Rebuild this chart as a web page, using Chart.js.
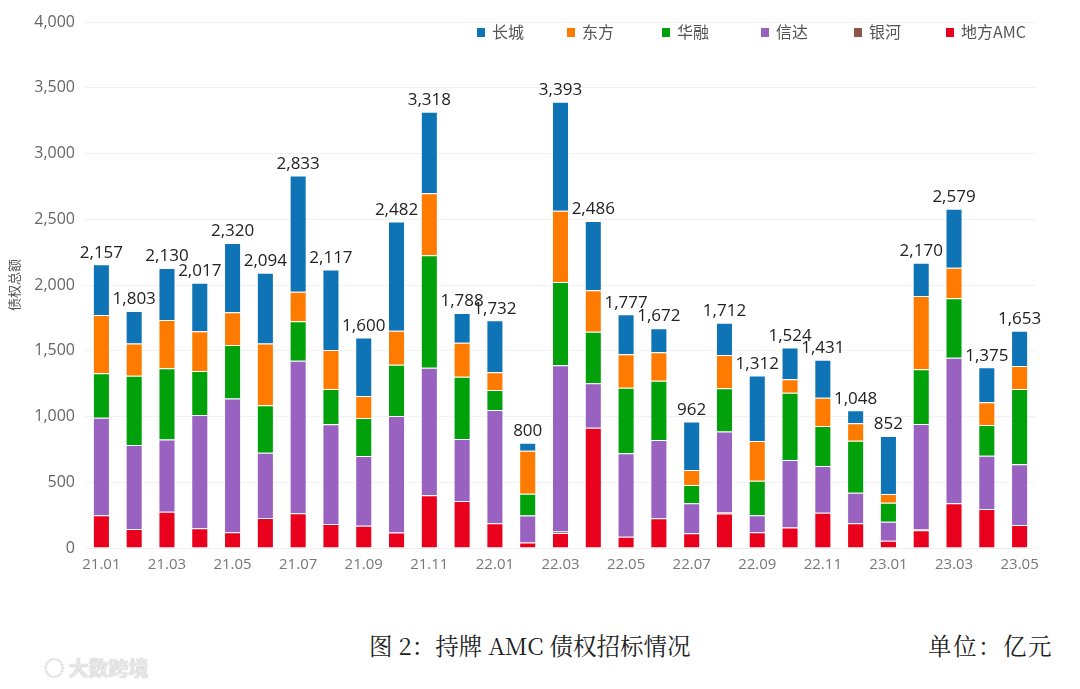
<!DOCTYPE html>
<html>
<head>
<meta charset="utf-8">
<script src="https://cdn.jsdelivr.net/npm/chart.js@4/dist/chart.umd.min.js"></script>
<style>
  html,body{margin:0;padding:0;background:#fff;width:1080px;height:689px;overflow:hidden;}
  #wrap{position:relative;width:1080px;height:689px;}
  #c{position:absolute;left:0;top:0;}
  .leg{position:absolute;top:21px;font-family:"Noto Sans CJK SC","Noto Sans",sans-serif;font-size:16px;color:#555;line-height:20px;white-space:nowrap;}
  .leg span{display:inline-block;width:8px;height:9px;margin-right:7px;vertical-align:1px;}
  .cap{position:absolute;top:630px;font-family:"Noto Serif CJK SC","Noto Sans CJK SC",serif;font-size:23.5px;color:#222;white-space:nowrap;line-height:30px;}
  .wm{position:absolute;left:44px;top:653px;font-family:"Noto Sans CJK SC",sans-serif;font-size:20px;font-weight:bold;color:#e8e8e8;text-shadow:0 0 1px #aaa;white-space:nowrap;}
</style>
</head>
<body>
<div id="wrap">
<canvas id="c" width="1080" height="600"></canvas>
<div id="legend"></div>
<div class="cap" style="left:369px;">图 2：持牌 AMC 债权招标情况</div>
<div class="cap" style="left:928px;letter-spacing:1.5px;">单位：亿元</div>
<div class="wm">◌ 大数跨境</div>
</div>
<script>
const months = ["21.01","21.02","21.03","21.04","21.05","21.06","21.07","21.08","21.09","21.10","21.11","21.12",
                "22.01","22.02","22.03","22.04","22.05","22.06","22.07","22.08","22.09","22.10","22.11","22.12",
                "23.01","23.02","23.03","23.04","23.05"];
const localAMC = [250,144,276,150,119,228,264,183,170,117,401,357,188,41,115,915,86,226,112,262,119,155,269,188,56,135,340,297,175];
const yinhe    = [0,0,0,0,0,0,0,0,0,0,0,0,0,0,10,0,0,0,0,8,0,0,0,0,0,7,0,0,0];
const xinda    = [741,639,550,861,1017,497,1160,758,530,887,970,472,861,207,1264,337,634,595,228,615,130,514,355,233,144,801,1107,405,461];
const huarong  = [337,527,540,335,408,360,300,268,289,390,855,474,153,165,634,393,499,451,139,329,263,512,304,395,145,416,452,233,573];
const dongfang = [444,246,368,302,248,471,225,297,167,259,471,258,134,327,542,315,254,216,114,254,302,102,215,132,66,557,233,173,175];
const changcheng = [385,247,396,369,528,538,884,611,444,829,621,227,396,60,828,526,304,184,369,244,498,241,288,100,441,254,447,267,269];
const totals   = [2157,1803,2130,2017,2320,2094,2833,2117,1600,2482,3318,1788,1732,800,3393,2486,1777,1672,962,1712,1312,1524,1431,1048,852,2170,2579,1375,1653];
const yTicks = [0,500,1000,1500,2000,2500,3000,3500,4000];

const seriesNames = ["长城","东方","华融","信达","银河","地方AMC"];
const seriesColors = ["#0f74b6","#ff7b00","#00a10a","#9a62c0","#8c564b","#e8001c"];
const legendX = [477,567,662,761,854,946];

// HTML legend
const legEl = document.getElementById('legend');
seriesNames.forEach((n,i)=>{
  const d = document.createElement('div');
  d.className='leg';
  d.style.left = legendX[i]+'px';
  d.innerHTML = '<span style="background:'+seriesColors[i]+'"></span>'+n;
  legEl.appendChild(d);
});

const stackData = [localAMC, yinhe, xinda, huarong, dongfang, changcheng];
const stackNames = ["地方AMC","银河","信达","华融","东方","长城"];
const stackColors = ["#e8001c","#8c564b","#9a62c0","#00a10a","#ff7b00","#0f74b6"];

const datasets = stackData.map((arr,i)=>({
  label: stackNames[i],
  data: arr,
  backgroundColor: stackColors[i],
  borderColor: 'rgba(255,255,255,0.45)',
  borderWidth: 1,
  barPercentage: 0.52,
  categoryPercentage: 1.0,
  stack: 's'
}));

const totalLabels = {
  id:'totalLabels',
  afterDatasetsDraw(chart){
    const ctx = chart.ctx;
    const yScale = chart.scales.y;
    const xScale = chart.scales.x;
    ctx.save();
    ctx.font = '17px "Open Sans", "Noto Sans", sans-serif';
    ctx.fillStyle = '#222';
    ctx.textAlign = 'center';
    ctx.textBaseline = 'bottom';
    totals.forEach((t,i)=>{
      const x = xScale.getPixelForValue(i);
      const y = yScale.getPixelForValue(t);
      ctx.fillText(t.toLocaleString('en-US'), x, y - 3);
    });
    ctx.restore();
  }
};

new Chart(document.getElementById('c'), {
  type:'bar',
  data:{ labels: months, datasets },
  options:{
    responsive:false,
    animation:false,
    devicePixelRatio:1,
    layout:{ padding:{ top:22, right:44, left:0, bottom:0 } },
    plugins:{ legend:{display:false}, tooltip:{enabled:false} },
    scales:{
      x:{
        stacked:true,
        grid:{ display:false, drawTicks:false },
        border:{ display:false },
        ticks:{
          autoSkip:false, maxRotation:0, padding:8,
          color:'#777',
          font:{ size:15, family:'"Open Sans","Noto Sans",sans-serif' },
          callback:function(v,i){ return i%2===0 ? months[i] : ''; }
        },
        afterFit(s){ s.height = 52; }
      },
      y:{
        stacked:true,
        min:0, max:4000,
        afterBuildTicks(s){ s.ticks = yTicks.map(v=>({value:v})); },
        grid:{ color:'#f1f1f1', drawTicks:false },
        border:{ display:false },
        ticks:{
          padding:10, color:'#666',
          font:{ size:16, family:'"Open Sans","Noto Sans",sans-serif' },
          callback:function(v){ return Number(v).toLocaleString('en-US'); }
        },
        title:{ display:true, text:'债权总额', color:'#555', padding:{top:6,bottom:0},
          font:{ size:13, family:'"Noto Sans CJK SC",sans-serif' } },
        afterFit(s){ s.width = 85; }
      }
    }
  },
  plugins:[totalLabels]
});
</script>
</body>
</html>
